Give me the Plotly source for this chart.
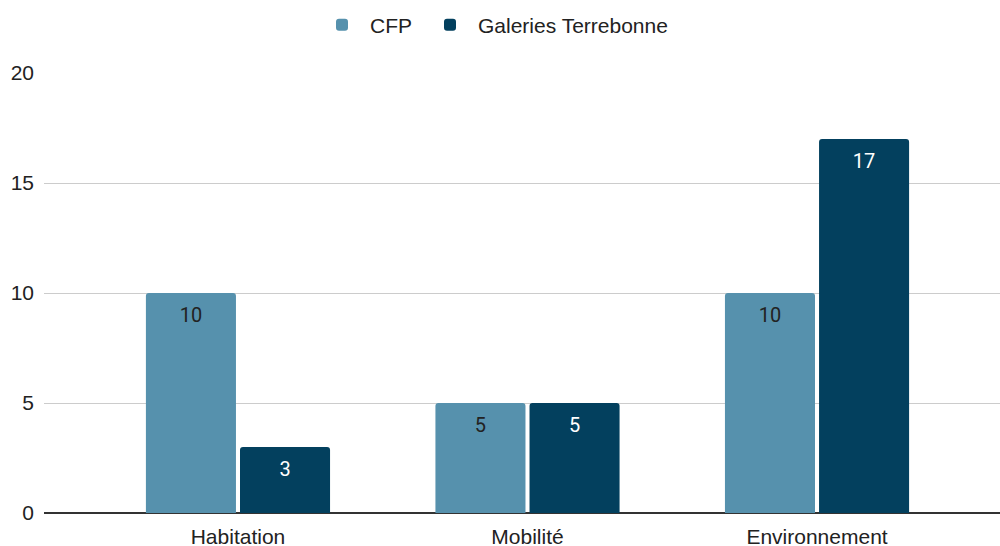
import plotly.graph_objects as go

categories = ["Habitation", "Mobilité", "Environnement"]
cfp_values = [10, 5, 10]
galeries_values = [3, 5, 17]
series_names = ["CFP", "Galeries Terrebonne"]
y_ticks = [0, 5, 10, 15, 20]

colors = ["#5691ad", "#03405e"]
text_colors = ["#222222", "#ffffff"]
legend_ids = ["legend", "legend2"]
label_offset = 1.1  # data units below bar top for value labels

fig = go.Figure()
for i, (name, vals, col) in enumerate(zip(series_names, [cfp_values, galeries_values], colors)):
    fig.add_trace(go.Bar(
        x=categories, y=vals, name=name, offsetgroup=str(i),
        marker=dict(color=col, cornerradius=3, line=dict(width=0)),
        hoverinfo="x+y", legend=legend_ids[i],
    ))
for i, (name, vals, tcol) in enumerate(zip(series_names, [cfp_values, galeries_values], text_colors)):
    fig.add_trace(go.Scatter(
        x=categories, y=[v - label_offset for v in vals], mode="text",
        text=[str(v) for v in vals], textposition="middle center",
        textfont=dict(family="Roboto", size=20, color=tcol),
        offsetgroup=str(i), showlegend=False, hoverinfo="skip",
    ))

legend_font = dict(family="Liberation Sans, Arial, sans-serif", size=21, color="#222222")
fig.update_layout(
    width=1000, height=546,
    margin=dict(l=44, r=0, t=73, b=33, autoexpand=False),
    paper_bgcolor="white", plot_bgcolor="white",
    barmode="group", bargap=0.35, bargroupgap=0.043,
    scattermode="group", scattergap=0.35,
    font=dict(family="Liberation Sans, Arial, sans-serif", size=21, color="#222222"),
    showlegend=True,
    legend=dict(orientation="h", x=(314 - 44) / 956, xanchor="left", y=1.109, yanchor="middle",
                font=legend_font, itemwidth=46),
    legend2=dict(orientation="h", x=(422 - 44) / 956, xanchor="left", y=1.109, yanchor="middle",
                 font=legend_font, itemwidth=46),
)
fig.update_xaxes(range=[-0.670, 2.632], showgrid=False, showline=False, zeroline=False,
                 ticks="", tickfont=dict(size=21, color="#222222"), ticklabelstandoff=9,
                 automargin=False)
fig.update_yaxes(range=[0, 20], tickvals=y_ticks, showgrid=True, gridcolor="#cccccc", gridwidth=1,
                 zeroline=True, zerolinecolor="#333333", zerolinewidth=1.5, showline=False,
                 ticks="", tickfont=dict(size=21, color="#222222"), ticklabelstandoff=9,
                 automargin=False)

fig.write_html("out.html", config={"displayModeBar": False},
               post_script="document.body.style.margin='0';")
